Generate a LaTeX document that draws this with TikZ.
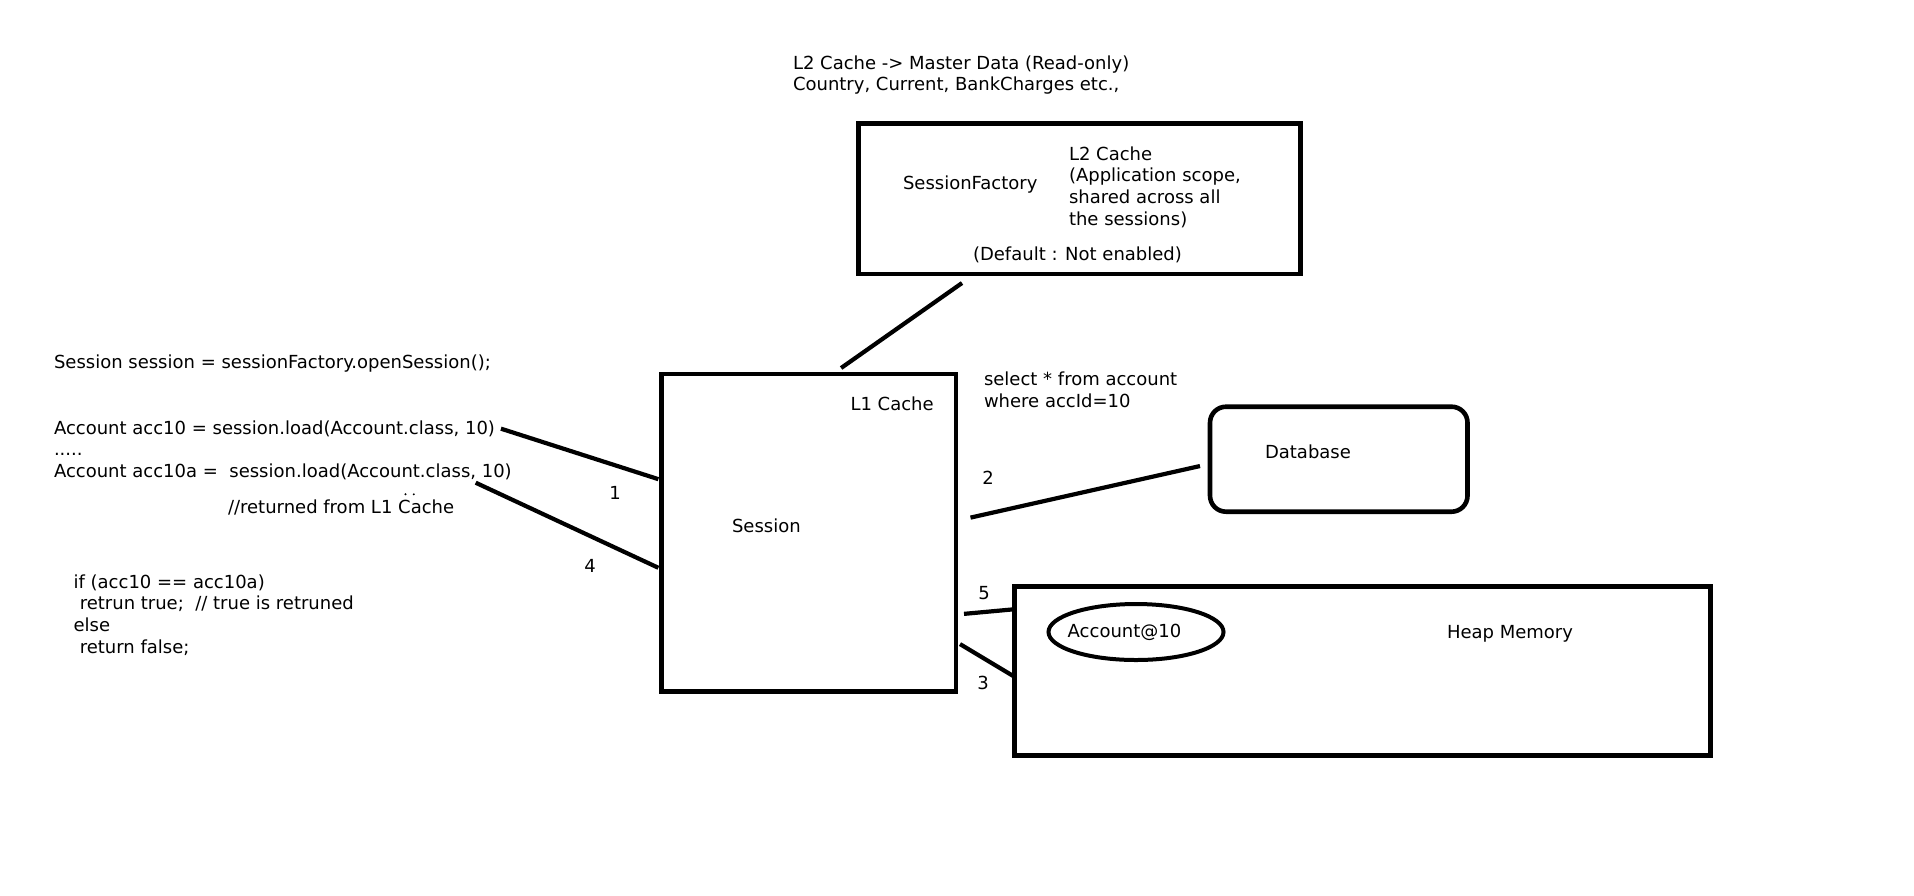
\documentclass[tikz,border=0pt]{standalone}
\usepackage{fontspec}
\setmainfont{DejaVu Sans}
\usetikzlibrary{calc,shapes.geometric}
\begin{document}
\begin{tikzpicture}[x=0.5pt,y=-0.5pt,
  font=\fontsize{9}{10.85}\selectfont,
  box/.style={draw, line width=2.3pt, inner sep=0pt, outer sep=0pt},
  txt/.style={inner sep=0pt, outer sep=0pt, anchor=base west},
  lbl/.style={inner sep=0pt, outer sep=0pt, anchor=center},
  conn/.style={line width=2.1pt}]
\fill[white] (0,0) rectangle (1914,895);
\useasboundingbox (0,0) rectangle (1914,895);

% top note
\node[txt] (note1) at (793,69) {L2 Cache -> Master Data (Read-only)};
\node[txt] (note2) at (793,90.7) {Country, Current, BankCharges etc.,};

% SessionFactory box
\node[box, minimum width=221pt, minimum height=75.3pt] (sf) at (1079.6,198.7) {};
\node[txt] (sfl) at (903,189) {SessionFactory};
\node[txt] (l2a) at (1069,160) {L2 Cache};
\node[txt] (l2b) at (1069,181.7) {(Application scope,};
\node[txt] (l2c) at (1069,203.3) {shared across all};
\node[txt] (l2d) at (1069,225) {the sessions)};
\node[txt] (dflt) at (973,260) {(Default : Not enabled)};

% Session box
\node[box, minimum width=147.3pt, minimum height=158.85pt] (ses) at (808.7,532.85) {};
\node[txt] (l1c) at (850.5,410) {L1 Cache};
\node[txt] (sesl) at (732,532.7) {Session};

% query
\node[txt] (sel1) at (984,385) {select * from account};
\node[txt] (sel2) at (984,407.7) {where accId=10};

% Database
\node[box, rounded corners=8pt, minimum width=128.75pt, minimum height=52.5pt] (db) at (1338.75,459.2) {};
\node[txt] (dbl) at (1265,458) {Database};

% Heap memory
\node[box, line width=2.5pt, minimum width=347.85pt, minimum height=84.25pt] (heap) at (1362.15,670.75) {};
\node[draw, ellipse, line width=2pt, inner sep=0pt, outer sep=0pt, minimum width=87.5pt, minimum height=28pt] (acc) at (1136,632) {};
\node[txt] (accl) at (1067.7,637) {Account@10};
\node[txt] (heapl) at (1447,638) {Heap Memory};

% code on the left
\node[txt] (code1) at (54,368.3) {Session session = sessionFactory.openSession();};
\node[txt] (code2) at (54,434.3) {Account acc10 = session.load(Account.class, 10)};
\node[txt] (code3) at (54,455) {.....};
\node[txt] (code4) at (54,477.7) {Account acc10a =\ \ session.load(Account.class, 10)};
\node[txt] (code5) at (228,513.3) {//returned from L1 Cache};
\fill (405.5,494.3) circle (1.1);
\fill (413.8,494.3) circle (1.1);
\node[txt] (if1) at (73.6,588.3) {if (acc10 == acc10a)};
\node[txt] (if2) at (79.8,609.3) {retrun true;\ \ // true is retruned};
\node[txt] (if3) at (73.6,631) {else};
\node[txt] (if4) at (79.8,653.3) {return false;};

% connectors
\draw[conn] ($(sf.south west)!0.234!(sf.south east)+(0,9)$) -- ($(ses.north west)!0.61!(ses.north east)+(0,-6)$);
\draw[conn] ($(code2.east)+(6,0)$) -- ($(ses.north west)!0.331!(ses.south west)+(-3,0)$);
\draw[conn] ($(code4.base east)+(-36,5)$) -- ($(ses.north west)!0.61!(ses.south west)+(-3,0)$);
\draw[conn] ($(ses.north east)!0.452!(ses.south east)+(14.5,0)$) -- ($(db.north west)!0.565!(db.south west)+(-10,0)$);
\draw[conn] ($(ses.north east)!0.755!(ses.south east)+(8,0)$) -- ($(heap.north west)!0.135!(heap.south west)$);
\draw[conn] ($(ses.north east)!0.85!(ses.south east)+(4,0)$) -- ($(heap.north west)!0.535!(heap.south west)$);

% step numbers
\node[lbl] (n1) at (615,493.3) {1};
\node[lbl] (n2) at (988,478) {2};
\node[lbl] (n3) at (983,682.7) {3};
\node[lbl] (n4) at (590,566) {4};
\node[lbl] (n5) at (984,593) {5};
\end{tikzpicture}
\end{document}
